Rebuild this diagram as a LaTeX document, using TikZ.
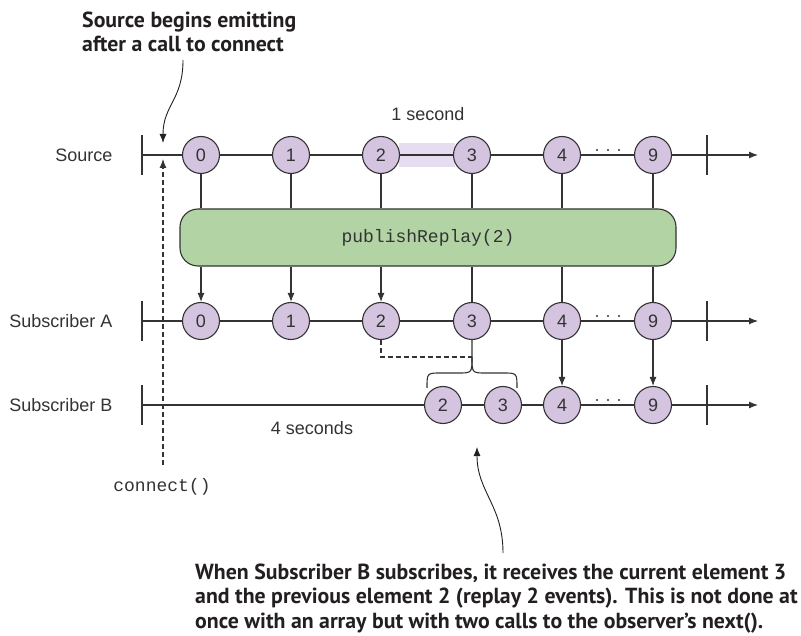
\documentclass[tikz,border=0pt]{standalone}
\usepackage{fontspec}
\setmainfont{Liberation Sans}
\newfontfamily\calloutfont{PT Sans}
\newfontfamily\codefont{Liberation Mono}
\usetikzlibrary{arrows.meta}
\definecolor{evc}{HTML}{D5C4E0}
\definecolor{evband}{HTML}{E7DDF0}
\definecolor{opc}{HTML}{B2D3A4}
\definecolor{ink}{HTML}{333333}
\definecolor{dark}{HTML}{231F20}
\tikzset{
  ev/.style={circle, draw=ink, fill=evc, line width=1.1pt, minimum size=37pt, inner sep=0pt,
    font=\fontsize{18}{20}\selectfont, text=ink},
  lbl/.style={font=\fontsize{18}{20}\selectfont, text=ink},
  ln/.style={draw=ink, line width=1.1pt},
  arr/.style={ln, -{Latex[length=9pt,width=7pt]}},
  thin arr/.style={draw=dark, line width=0.9pt, -{Latex[length=9pt,width=7pt]}},
  dsh/.style={dash pattern=on 5pt off 3pt},
  callout/.style={font=\calloutfont\bfseries\fontsize{21.8}{24.5}\selectfont, text=dark, align=left, inner sep=0pt},
  code/.style={font=\codefont\fontsize{18}{20}\selectfont, text=ink},
  dot/.style={fill=ink, draw=none},
}
\begin{document}
\begin{tikzpicture}[x=1pt,y=-1pt]
\useasboundingbox (0,0) rectangle (801,636);
\fill[white] (0,0) rectangle (801,636);

% highlight band (1 second)
\fill[evband] (399,143) rectangle (455,167);

% timelines
\foreach \yy in {155,321,405}{
  \draw[arr] (142,\yy) -- (758,\yy);
  \draw[ln] (142,\yy-20) -- (142,\yy+20);
  \draw[ln] (707,\yy-20) -- (707,\yy+20);
  \foreach \xx in {597,608,619}{ \fill[dot] (\xx,\yy-5) circle (1.2pt); }
}

% labels
\node[lbl, anchor=east] (lsrc) at (116,155) {Source};
\node[lbl, anchor=east] (lA) at (116,321) {Subscriber A};
\node[lbl, anchor=east] (lB) at (116,405) {Subscriber B};
\node[lbl] (onesec) at (428,114) {1 second};
\node[lbl] (foursec) at (312,428) {4 seconds};

% operator box
\node[draw=ink, fill=opc, rounded corners=18pt, minimum width=496pt, minimum height=57pt,
  line width=1.1pt, inner sep=0pt] (op) at (428,237.5) {\codefont\fontsize{18}{20}\selectfont\color{ink}publishReplay(2)};

% source events
\node[ev] (S0) at (201,155) {0};
\node[ev] (S1) at (291,155) {1};
\node[ev] (S2) at (381,155) {2};
\node[ev] (S3) at (472,155) {3};
\node[ev] (S4) at (562,155) {4};
\node[ev] (S9) at (653,155) {9};

% subscriber A events
\node[ev] (A0) at (201,321) {0};
\node[ev] (A1) at (291,321) {1};
\node[ev] (A2) at (381,321) {2};
\node[ev] (A3) at (472,321) {3};
\node[ev] (A4) at (562,321) {4};
\node[ev] (A9) at (653,321) {9};

% subscriber B events
\node[ev] (B2) at (443,405) {2};
\node[ev] (B3) at (503,405) {3};
\node[ev] (B4) at (562,405) {4};
\node[ev] (B9) at (653,405) {9};

% source -> operator
\foreach \n in {S0,S1,S2,S3,S4,S9}{ \draw[ln] (\n) -- (\n |- op.north); }
% operator -> A
\foreach \n in {A0,A1,A2}{ \draw[arr] (op.south -| \n) -- (\n); }
\foreach \n in {A3,A4,A9}{ \draw[ln] (op.south -| \n) -- (\n); }
% A -> B
\draw[arr] (A4) -- (B4);
\draw[arr] (A9) -- (B9);

% replay dashed + brace
\coordinate (cusp) at (472,357);
\draw[ln, dsh] (A2.south) |- (cusp);
\draw[ln] (A3.south) -- (cusp)
  .. controls (472,373) .. (458,373) -- (441,373) .. controls (427,373) .. (427,388);
\draw[ln] (cusp)
  .. controls (472,373) .. (486,373) -- (503,373) .. controls (517,373) .. (517,388);

% connect()
\node[code] (conn) at (162,487) {connect()};
\coordinate (cbot) at (163,465);
\coordinate (ctop) at (163,159);
\draw[arr, dsh] (cbot) -- (ctop);

% callouts
\node[callout, anchor=base west] (c1) at (82,52) {Source begins emitting\\after a call to connect};
\coordinate (c1tail) at (183,60);
\coordinate (c1tip) at (163,143);
\draw[thin arr] (c1tail) .. controls (183,100) and (163,105) .. (c1tip);

\node[callout, anchor=base west] (c2) at (195,628) {When Subscriber B subscribes, it receives the current element 3\\and the previous element 2 (replay 2 events). This is not done at\\once with an array but with two calls to the observer’s next().};
\coordinate (c2tail) at (503,553);
\coordinate (c2tip) at (477,447);
\draw[thin arr] (c2tail) .. controls (503,505) and (477,492) .. (c2tip);
\end{tikzpicture}
\end{document}
